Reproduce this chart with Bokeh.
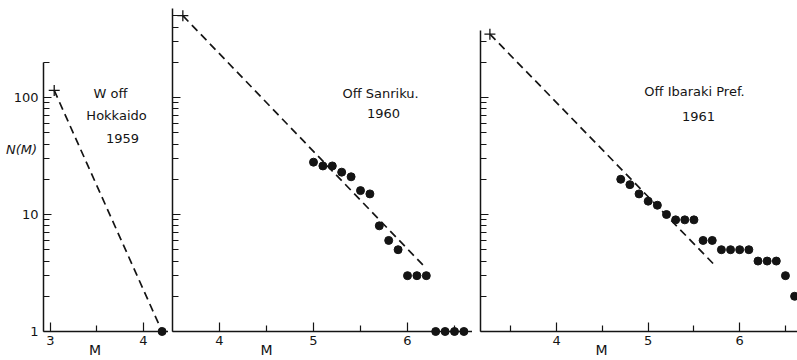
from bokeh.plotting import figure
from bokeh.layouts import row
from bokeh.models import Range1d, FixedTicker, BasicTickFormatter, Label
from bokeh.embed import file_html
from bokeh.resources import INLINE

# ---------------- data ----------------
# Panel 1: W off Hokkaido 1959
m1_dots = [4.2]
n1_dots = [1]
m1_plus = [3.04]
n1_plus = [115]
m1_fit = [3.04, 4.2]
n1_fit = [115, 1]

# Panel 2: Off Sanriku 1960
m2_dots = [5.0, 5.1, 5.2, 5.3, 5.4, 5.5, 5.6, 5.7, 5.8, 5.9, 6.0, 6.1, 6.2, 6.3, 6.4, 6.5, 6.6]
n2_dots = [28, 26, 26, 23, 21, 16, 15, 8, 6, 5, 3, 3, 3, 1, 1, 1, 1]
m2_plus = [3.61]
n2_plus = [500]
m2_fit = [3.61, 6.19]
n2_fit = [500, 3.52]

# Panel 3: Off Ibaraki Pref. 1961
m3_dots = [4.7, 4.8, 4.9, 5.0, 5.1, 5.2, 5.3, 5.4, 5.5, 5.6, 5.7, 5.8, 5.9, 6.0, 6.1, 6.2, 6.3, 6.4, 6.5, 6.6]
n3_dots = [20, 18, 15, 13, 12, 10, 9, 9, 9, 6, 6, 5, 5, 5, 5, 4, 4, 4, 3, 2]
m3_plus = [3.27]
n3_plus = [348]
m3_fit = [3.27, 5.74]
n3_fit = [348, 3.6]

# axes / tick labels
y_major = [1, 10, 100]
y_major_labels = ["1", "10", "100"]
y1_minor = [2, 3, 4, 5, 6, 7, 8, 9, 20, 30, 40, 50, 60, 70, 80, 90, 200]
y2_minor = [2, 3, 4, 5, 6, 7, 8, 9, 20, 30, 40, 50, 60, 70, 80, 90, 200, 300, 400, 500]
y3_minor = [2, 3, 4, 5, 6, 7, 8, 9, 20, 30, 40, 50, 60, 70, 80, 90, 200, 300]
x1_major = [3, 4]
x1_minor = [3.5]
x23_major = [4, 5, 6]
x2_minor = [4.5, 5.5, 6.5]
x3_minor = [3.5, 4.5, 5.5, 6.5]

INK = "#141414"
FONT = "DejaVu Sans"
H = 359
Y_RANGE = (0.5763, 674.5)     # N(M) range of each frame (log scale)
N_TICKLABEL = 0.838           # level just below the M axis for tick labels
N_MLABEL = 0.688              # level of the "M" axis title


def style_axis(ax, tick_major, tick_minor):
    ax.major_tick_in = tick_major
    ax.major_tick_out = 0
    ax.minor_tick_in = tick_minor
    ax.minor_tick_out = 0
    ax.axis_line_width = 1.5
    ax.axis_line_color = INK
    ax.major_tick_line_color = INK
    ax.minor_tick_line_color = INK
    ax.major_tick_line_width = 1.2
    ax.minor_tick_line_width = 1.2
    ax.major_label_standoff = 0
    ax.major_label_text_font_size = "0px"
    ax.major_label_text_color = None


def make_panel(width, xr, x_origin, x_major, x_minor, y_minor, y_top):
    p = figure(width=width, height=H, x_range=Range1d(*xr),
               y_range=Range1d(*Y_RANGE), y_axis_type="log",
               output_backend="svg", toolbar_location=None,
               min_border_left=0, min_border_right=0,
               min_border_top=0, min_border_bottom=0)
    p.outline_line_color = None
    p.grid.visible = False
    p.background_fill_color = "white"
    p.border_fill_color = "white"

    xa = p.xaxis[0]
    xa.ticker = FixedTicker(ticks=x_major, minor_ticks=x_minor)
    xa.formatter = BasicTickFormatter()
    xa.fixed_location = 1
    xa.bounds = (x_origin, xr[1])
    style_axis(xa, 9, 6)

    ya = p.yaxis[0]
    ya.ticker = FixedTicker(ticks=y_major, minor_ticks=y_minor)
    ya.formatter = BasicTickFormatter()
    ya.fixed_location = x_origin
    ya.bounds = (1, y_top)
    style_axis(ya, 8, 6)

    # tick labels of the M axis
    for t in x_major:
        p.add_layout(Label(x=t, y=N_TICKLABEL, text=str(t), text_align="center",
                           text_baseline="middle", text_font=FONT,
                           text_font_size="13px", text_color=INK))
    return p


def add_text(p, x, y, text, size="13px", style="normal", align="center"):
    p.add_layout(Label(x=x, y=y, text=text, text_align=align,
                       text_baseline="middle", text_font=FONT,
                       text_font_size=size, text_font_style=style,
                       text_color=INK))


def draw(p, md, nd, mp, np_, mf, nf):
    p.line(mf, nf, line_color=INK, line_width=1.7, line_dash="8 5")
    p.scatter(md, nd, marker="circle", size=8, fill_color=INK, line_color=INK)
    p.scatter(mp, np_, marker="cross", size=11, line_color=INK, line_width=1.3)


# Panel 1
p1 = make_panel(168, (2.4624, 4.2689), 2.925, x1_major, x1_minor, y1_minor, 200)
draw(p1, m1_dots, n1_dots, m1_plus, n1_plus, m1_fit, n1_fit)
for t, lab in zip(y_major, y_major_labels):
    add_text(p1, 2.871, t, lab, align="right")
add_text(p1, 3.645, 108, "W off")
add_text(p1, 3.71, 70, "Hokkaido")
add_text(p1, 3.774, 44.6, "1959")
add_text(p1, 2.688, 36, "N(M)", style="italic")
add_text(p1, 3.48, N_MLABEL, "M", size="14px")

# Panel 2
p2 = make_panel(304, (3.4574, 6.6915), 3.5, x23_major, x2_minor, y2_minor, 574)
draw(p2, m2_dots, n2_dots, m2_plus, n2_plus, m2_fit, n2_fit)
add_text(p2, 5.713, 108, "Off Sanriku.")
add_text(p2, 5.745, 73, "1960")
add_text(p2, 4.5, N_MLABEL, "M", size="14px")

# Panel 3
p3 = make_panel(325, (3.0798, 6.6317), 3.167, x23_major, x3_minor, y3_minor, 374)
draw(p3, m3_dots, n3_dots, m3_plus, n3_plus, m3_fit, n3_fit)
add_text(p3, 5.506, 112, "Off Ibaraki Pref.")
add_text(p3, 5.55, 69, "1961")
add_text(p3, 4.49, N_MLABEL, "M", size="14px")

layout = row(p1, p2, p3, spacing=0)

with open("out.html", "w") as f:
    f.write(file_html(layout, INLINE))
